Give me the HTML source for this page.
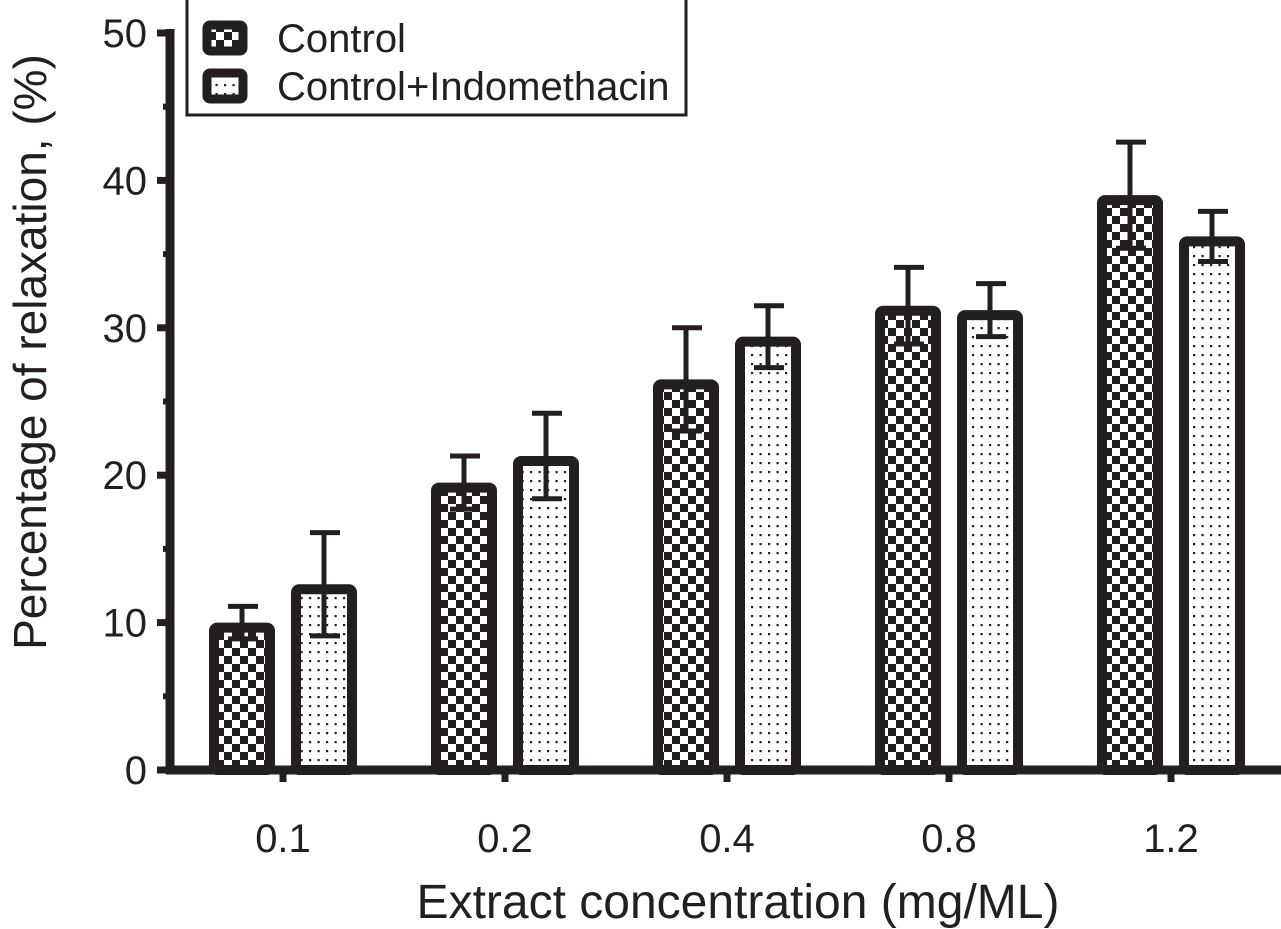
<!DOCTYPE html>
<html><head><meta charset="utf-8"><style>
html,body{margin:0;padding:0;background:#fff}
svg{display:block;font-family:"Liberation Sans",Arial,sans-serif}
</style></head><body>
<svg id="chart" width="1281" height="929" viewBox="0 0 1281 929" xmlns="http://www.w3.org/2000/svg">
<defs>
<pattern id="checker" patternUnits="userSpaceOnUse" width="16" height="16">
<rect width="16" height="16" fill="#fff"/>
<rect width="8" height="8" fill="#231f20"/>
<rect x="8" y="8" width="8" height="8" fill="#231f20"/>
</pattern>
<pattern id="dots" patternUnits="userSpaceOnUse" width="8.5" height="9">
<rect width="8.5" height="9" fill="#fff"/>
<rect x="3" y="3" width="2.2" height="2.2" fill="#231f20"/>
</pattern>
</defs>
<g id="plot"></g>
</svg>
<script>
const categories = ["0.1","0.2","0.4","0.8","1.2"];
const controlValues = [10.0, 19.5, 26.5, 31.5, 39.0];
const controlErrors = [1.1, 1.8, 3.5, 2.6, 3.6];
const indoValues = [12.6, 21.3, 29.4, 31.2, 36.2];
const indoErrors = [3.5, 2.9, 2.1, 1.8, 1.7];
const yTicks = [0,10,20,30,40,50];

const NS = "http://www.w3.org/2000/svg";
const g = document.getElementById('plot');
const ink = "#231f20";
const y0 = 770, yTop = 33, yMax = 50;
function yScale(v){ return y0 - v*(y0-yTop)/yMax; }
function xScale(i){ return 283 + i*222; }
function mk(tag, attrs, parent){
  const e = document.createElementNS(NS, tag);
  for (const k in attrs) e.setAttribute(k, attrs[k]);
  (parent||g).appendChild(e); return e;
}

const series = [
  {vals: controlValues, errs: controlErrors, fill: "url(#checker)", off: -41, name: "control"},
  {vals: indoValues, errs: indoErrors, fill: "url(#dots)", off: 41, name: "indomethacin"}
];
series.forEach(s=>{
  s.vals.forEach((v,i)=>{
    const cx = xScale(i) + s.off;
    const top = yScale(v);
    const b = mk('rect', {x: cx-28, y: top+5, width: 56, height: y0-top-5, fill: s.fill, stroke: ink, 'stroke-width': 10, rx: 3});
    
    
    const hi = yScale(v + s.errs[i]);
    const lo = yScale(v - s.errs[i]);
    const eb = mk('g', {});
    
    
    mk('line', {x1: cx, x2: cx, y1: lo, y2: hi, stroke: ink, 'stroke-width': 5}, eb);
    mk('line', {x1: cx-14, x2: cx+16, y1: hi, y2: hi, stroke: ink, 'stroke-width': 5}, eb);
    mk('line', {x1: cx-14, x2: cx+16, y1: lo, y2: lo, stroke: ink, 'stroke-width': 5}, eb);
  });
});

const ya = mk('line', {x1: 170, x2: 170, y1: yTop-4, y2: y0+4, stroke: ink, 'stroke-width': 9});


const xa = mk('line', {x1: 166, x2: 1281, y1: y0, y2: y0, stroke: ink, 'stroke-width': 9});



yTicks.forEach(t=>{
  const y = yScale(t);
  mk('line', {x1: 157, x2: 170, y1: y, y2: y, stroke: ink, 'stroke-width': 7});
  if (t < 50) mk('line', {x1: 163, x2: 170, y1: yScale(t+5), y2: yScale(t+5), stroke: ink, 'stroke-width': 6});
  const tx = mk('text', {x: 147, y: y+14, 'text-anchor': 'end', 'font-size': 40, fill: ink});
  tx.textContent = t;
  
  
});
categories.forEach((c,i)=>{
  const x = xScale(i);
  mk('line', {x1: x, x2: x, y1: y0, y2: y0+12, stroke: ink, 'stroke-width': 7});
  const tx = mk('text', {x: x, y: 852, 'text-anchor': 'middle', 'font-size': 40, fill: ink});
  tx.textContent = c;
  
  
});

const xt = mk('text', {x: 738, y: 918, 'text-anchor': 'middle', 'font-size': 48, fill: ink});
xt.textContent = "Extract concentration (mg/ML)";


const yt = mk('text', {x: 0, y: 0, 'text-anchor': 'middle', 'font-size': 46, fill: ink, transform: 'translate(46,352) rotate(-90)'});
yt.textContent = "Percentage of relaxation, (%)";



const lg = mk('g', {});


mk('rect', {x: 187, y: -2, width: 499, height: 117, fill: '#fff', stroke: ink, 'stroke-width': 3}, lg);
[["Control","url(#checker)",38],["Control+Indomethacin","url(#dots)",86]].forEach(([lab,f,y])=>{
  const e = mk('g', {}, lg);
  
  
  mk('rect', {x: 207, y: y-13, width: 36, height: 26, fill: f, stroke: ink, 'stroke-width': 9, rx: 3}, e);
  const t = mk('text', {x: 277, y: y+14, 'font-size': 40, fill: ink}, e);
  t.textContent = lab;
});
</script>
</body></html>
